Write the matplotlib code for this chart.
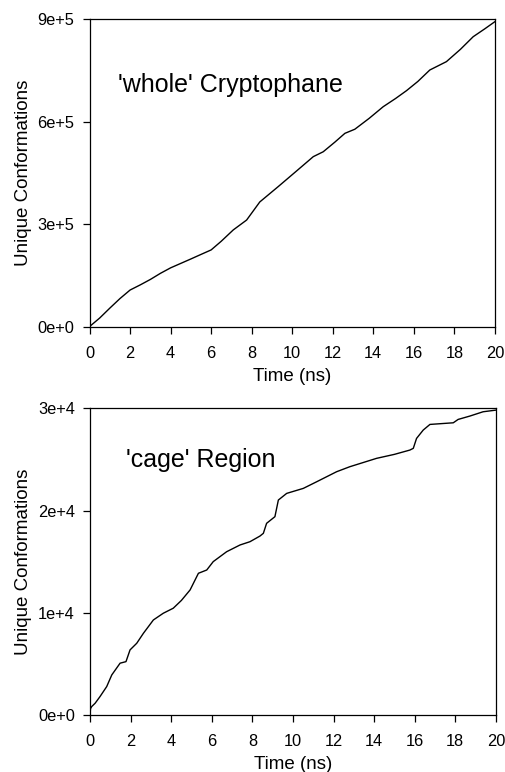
import matplotlib
matplotlib.use("Agg")
import matplotlib.pyplot as plt
from matplotlib.ticker import FuncFormatter

plt.rcParams['font.family'] = ['Liberation Sans', 'DejaVu Sans']

# 'whole' Cryptophane: time (ns) vs unique conformations
t_whole = [0, 0.5, 1.0, 1.5, 2.0, 2.5, 3.0, 3.5, 4.0, 5.0, 5.45, 6.0, 6.5, 7.09,
           7.75, 8.4, 9.31, 10.2, 11.04, 11.53, 12.1, 12.6, 13.09, 13.8, 14.49,
           15.1, 15.64, 16.2, 16.79, 17.61, 18.3, 18.93, 19.5, 20.0]
n_whole = [0, 25000, 54000, 82000, 107000, 122000, 138000, 156000, 172000, 198000,
           210000, 224500, 250000, 283000, 312000, 365000, 410000, 455000, 497700,
           512000, 540000, 566000, 578000, 610000, 644000, 668000, 691000, 718000,
           751500, 776000, 812000, 849000, 872000, 893000]

# 'cage' Region
t_cage = [0, 0.02, 0.08, 0.25, 0.49, 0.82, 1.07, 1.48, 1.77, 1.97, 2.3, 2.63, 3.12,
          3.61, 4.1, 4.5, 4.93, 5.34, 5.75, 6.07, 6.73, 7.39, 7.88, 8.37, 8.54, 8.7,
          9.11, 9.28, 9.69, 10.51, 11.17, 12.15, 12.8, 14.12, 15.0, 15.76, 15.93,
          16.09, 16.42, 16.75, 17.9, 18.14, 18.72, 19.37, 20.0]
n_cage = [0, 600, 812, 1140, 1790, 2770, 3910, 5060, 5210, 6360, 7010, 7990, 9290,
          9950, 10440, 11200, 12230, 13860, 14180, 15000, 15970, 16630, 16950, 17500,
          17770, 18750, 19400, 21030, 21680, 22170, 22820, 23800, 24290, 25110, 25500,
          25920, 26090, 27060, 27880, 28430, 28590, 28920, 29250, 29670, 29830]

x_ticks = [0, 2, 4, 6, 8, 10, 12, 14, 16, 18, 20]


def sci(v, pos):
    if v == 0:
        return '0e+0'
    e = len(str(int(abs(v)))) - 1
    return '%de+%d' % (round(v / 10 ** e), e)


fig = plt.figure(figsize=(5.06, 7.72), dpi=100)
ax1 = fig.add_axes([0.177, 0.577, 0.801, 0.398])
ax2 = fig.add_axes([0.178, 0.074, 0.802, 0.397])

panels = [
    (ax1, t_whole, n_whole, 900000, [0, 300000, 600000, 900000], "'whole' Cryptophane", 0.07, 0.786),
    (ax2, t_cage, n_cage, 30000, [0, 10000, 20000, 30000], "'cage' Region", 0.089, 0.831),
]

for ax, t, n, ymax, yt, label, tx, ty in panels:
    ax.plot(t, n, color='black', linewidth=1.0)
    ax.set_xlim(0, 20)
    ax.set_ylim(0, ymax)
    ax.set_xticks(x_ticks)
    ax.set_yticks(yt)
    ax.yaxis.set_major_formatter(FuncFormatter(sci))
    ax.tick_params(direction='out', length=5, width=0.9, labelsize=11.8)
    ax.tick_params(axis='x', pad=9)
    ax.tick_params(axis='y', pad=6)
    ax.set_xlabel('Time (ns)', fontsize=13.5, labelpad=5)
    ax.set_ylabel('Unique Conformations', fontsize=13.5, labelpad=4)
    for s in ax.spines.values():
        s.set_linewidth(0.9)
    ax.text(tx, ty, label, transform=ax.transAxes, fontsize=18, va='center', ha='left')

fig.savefig('out.png', dpi=100)
